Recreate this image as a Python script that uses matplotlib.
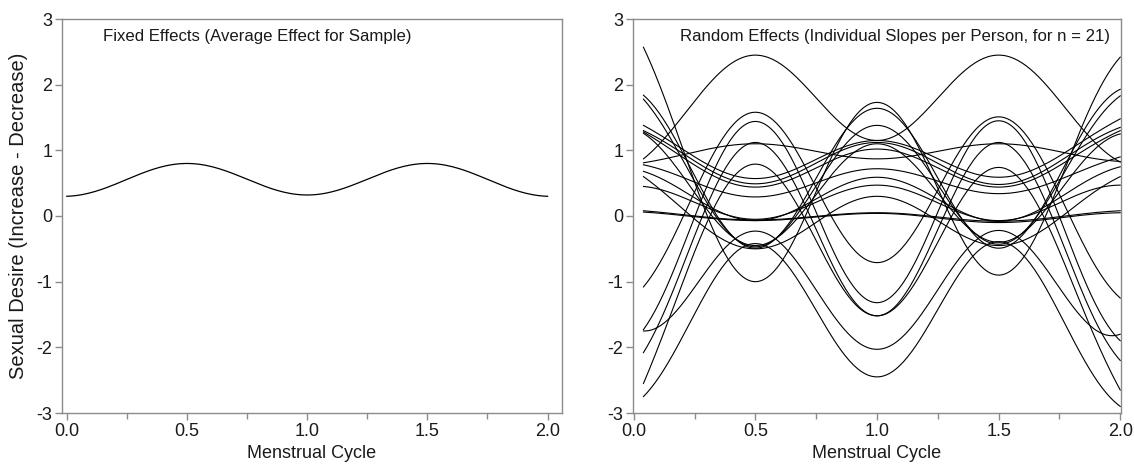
import numpy as np
import matplotlib
matplotlib.use("Agg")
import matplotlib.pyplot as plt
from matplotlib.ticker import MultipleLocator

plt.rcParams['font.family'] = ['Liberation Sans', 'DejaVu Sans']

# ---- data (values at the key cycle positions) ----
fixed_key_x = [0.0, 0.5, 1.0, 1.5, 2.0]
fixed_vals = [0.30, 0.80, 0.32, 0.80, 0.30]

random_key_x = [0.04, 0.5, 1.0, 1.5, 2.0]
# one entry per person (n = 21)
start_vals      = [0.87, 0.81, -1.08, -1.73, -2.08, -2.55, -1.75, -2.75,
                   2.57, 1.84, 1.78, 1.38, 1.30, 1.28, 0.78, 0.68, 0.45,
                   1.26, 0.60, 0.08, 0.06]
half_vals       = [2.45, 1.10, 1.58, 1.44, 1.12, 0.79, -0.23, -0.42,
                   -1.00, -0.49, -0.47, 0.57, 0.49, 0.44, 0.29, -0.07, -0.05,
                   -0.45, -0.50, -0.06, -0.07]
one_vals        = [1.15, 0.87, -0.71, -1.32, -1.52, -1.52, -2.03, -2.45,
                   1.73, 1.64, 1.38, 1.15, 1.12, 1.02, 0.72, 0.59, 0.47,
                   1.10, 0.30, 0.05, 0.04]
three_half_vals = [2.45, 1.10, 1.51, 1.45, 1.12, 0.74, -0.22, -0.39,
                   -0.90, -0.49, -0.43, 0.59, 0.48, 0.44, 0.34, -0.08, -0.07,
                   -0.40, -0.45, -0.08, -0.10]
end_vals        = [0.82, 0.83, -1.25, -1.90, -2.20, -2.65, -1.80, -2.90,
                   2.42, 1.93, 1.83, 1.48, 1.35, 1.30, 0.90, 0.75, 0.47,
                   1.25, 0.60, 0.08, 0.05]


def _basis(x):
    x = np.asarray(x, dtype=float)
    u = x - 1.0
    return np.stack([np.ones_like(x), np.cos(2 * np.pi * x), (u * u - 0.25) ** 2], axis=-1)


def _segment(x0, x1, x2, y0, y1, y2, n=120):
    A = _basis([x0, x1, x2])
    coef = np.linalg.solve(A, [y0, y1, y2])
    lo, hi = min(x0, x2), max(x0, x2)
    xs = np.linspace(lo, hi, n)
    return xs, _basis(xs) @ coef


def smooth_curve(kx, ky):
    xa, ya = _segment(kx[0], kx[1], kx[2], ky[0], ky[1], ky[2])
    xb, yb = _segment(kx[4], kx[3], kx[2], ky[4], ky[3], ky[2])
    return np.concatenate([xa, xb[1:]]), np.concatenate([ya, yb[1:]])


W, H = 1134, 466
fig = plt.figure(figsize=(W / 100, H / 100), dpi=100)

def frac(x0, x1, ytop, ybot):
    return [x0 / W, 1 - ybot / H, (x1 - x0) / W, (ybot - ytop) / H]

ax1 = fig.add_axes(frac(62, 562, 19, 413))
ax2 = fig.add_axes(frac(633, 1121, 19, 413))

spine_col = '#8c8c8c'
txt_col = '#1a1a1a'
for ax in (ax1, ax2):
    ax.set_ylim(-3, 3)
    ax.yaxis.set_major_locator(MultipleLocator(1))
    ax.xaxis.set_major_locator(MultipleLocator(0.5))
    ax.xaxis.set_minor_locator(MultipleLocator(0.25))
    ax.xaxis.set_major_formatter(plt.FuncFormatter(lambda v, p: f"{v:.1f}"))
    ax.yaxis.set_major_formatter(plt.FuncFormatter(lambda v, p: f"{int(round(v))}"))
    for s in ax.spines.values():
        s.set_color(spine_col)
        s.set_linewidth(1.0)
    ax.tick_params(axis='both', which='major', direction='out', length=5, width=1.0,
                   color=spine_col, labelsize=13, labelcolor=txt_col, pad=2)
    ax.tick_params(axis='x', which='minor', direction='out', length=4, width=1.0,
                   color=spine_col)
    ax.tick_params(top=False, right=False)
    ax.set_xlabel('Menstrual Cycle', fontsize=13, color=txt_col, labelpad=4)

ax1.set_xlim(-0.02, 2.06)
ax2.set_xlim(-0.003, 2.003)

# fixed effect
fx, fy = smooth_curve(fixed_key_x, fixed_vals)
ax1.plot(fx, fy, color='black', lw=0.9)
ax1.text(0.082, 0.975, 'Fixed Effects (Average Effect for Sample)', transform=ax1.transAxes,
         ha='left', va='top', fontsize=12.1, color=txt_col)
ax1.set_ylabel('Sexual Desire (Increase - Decrease)', fontsize=14.5, color=txt_col, labelpad=6)

# random effects
for i in range(len(start_vals)):
    ky = [start_vals[i], half_vals[i], one_vals[i], three_half_vals[i], end_vals[i]]
    rx, ry = smooth_curve(random_key_x, ky)
    ax2.plot(rx, ry, color='black', lw=0.8)
ax2.text(0.096, 0.975, 'Random Effects (Individual Slopes per Person, for n = 21)',
         transform=ax2.transAxes, ha='left', va='top', fontsize=12.1, color=txt_col)

fig.savefig('out.png', dpi=100)
